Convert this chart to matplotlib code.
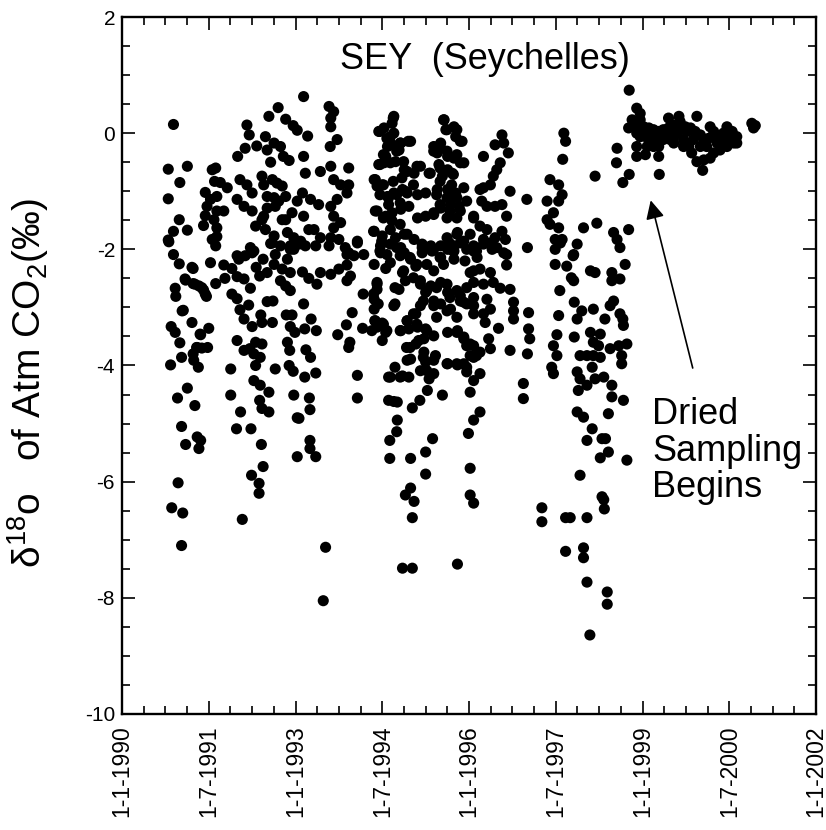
import numpy as np
import matplotlib.pyplot as plt

plt.rcParams['font.family'] = ['Liberation Sans', 'DejaVu Sans']
plt.rcParams['mathtext.fontset'] = 'custom'
plt.rcParams['mathtext.rm'] = 'Liberation Sans'
plt.rcParams['mathtext.it'] = 'Liberation Sans'
plt.rcParams['axes.unicode_minus'] = False

# (decimal year, delta18O permil)
flask_1990_1992 = [
    (1990.89, 0.15), (1990.80, -0.62), (1991.13, -0.57), (1991.00, -0.85), (1990.80, -1.13),
    (1990.99, -1.49), (1991.13, -1.67), (1990.89, -1.69), (1990.80, -1.84), (1990.89, -2.09),
    (1991.56, -0.63), (1991.62, -0.60), (1991.44, -1.02), (1991.60, -0.83), (1991.70, -0.85),
    (1991.82, -0.94), (1991.53, -1.14), (1991.64, -1.09), (1991.47, -1.26), (1991.44, -1.42),
    (1991.64, -1.34), (1991.76, -1.34), (1991.59, -1.49), (1991.41, -1.59), (1991.64, -1.63),
    (1991.56, -1.83), (1991.64, -1.78), (1991.62, -1.94), (1992.00, -0.40), (1991.99, -1.14),
    (1991.99, -2.11), (1990.81, -1.87), (1990.99, -2.25), (1991.23, -2.33), (1990.92, -2.67),
    (1990.93, -2.81), (1991.10, -2.53), (1991.23, -2.59), (1991.33, -2.63), (1991.41, -2.70),
    (1991.46, -2.81), (1991.06, -3.05), (1990.85, -3.33), (1990.92, -3.43), (1991.00, -3.61),
    (1991.03, -3.86), (1991.21, -3.26), (1991.36, -3.47), (1991.50, -3.36), (1991.30, -3.69),
    (1991.38, -3.70), (1991.48, -3.69), (1991.24, -3.91), (1991.32, -4.03), (1990.84, -3.99),
    (1991.13, -4.39), (1990.96, -4.56), (1991.26, -4.69), (1991.03, -5.05), (1991.10, -5.36),
    (1991.30, -5.23), (1991.36, -5.29), (1991.33, -5.43), (1990.97, -6.02), (1991.53, -2.23),
    (1991.62, -2.59), (1991.76, -2.27), (1991.78, -2.50), (1991.90, -2.33), (1991.99, -2.47),
    (1991.90, -2.77), (1991.99, -2.85), (1991.99, -3.57), (1991.88, -4.06), (1991.88, -4.51),
    (1991.98, -5.09), (1990.86, -6.45), (1991.05, -6.54), (1991.03, -7.10),
    (1991.21, -2.31), (1991.09, -2.51), (1991.26, -2.60), (1991.38, -2.66), (1991.44, -2.77),
    (1991.04, -3.06), (1991.35, -3.46), (1991.29, -3.69), (1991.23, -3.80),
]

flask_1992_1993 = [
    (1992.16, 0.14), (1992.20, -0.03), (1992.13, -0.26), (1992.33, -0.22), (1992.48, -0.06),
    (1992.54, 0.29), (1992.70, 0.44), (1992.83, 0.24), (1992.96, 0.13), (1993.03, 0.05),
    (1993.21, -0.05), (1992.51, -0.29), (1992.57, -0.50), (1992.63, -0.17), (1992.74, -0.23),
    (1992.79, -0.40), (1992.89, -0.47), (1992.04, -0.80), (1992.16, -0.89), (1992.25, -1.03),
    (1992.11, -1.26), (1992.25, -1.34), (1992.42, -0.74), (1992.45, -0.89), (1992.60, -0.80),
    (1992.68, -0.86), (1992.77, -0.91), (1992.51, -1.09), (1992.63, -1.11), (1992.71, -1.17),
    (1992.83, -1.09), (1992.65, -1.26), (1992.51, -1.29), (1992.45, -1.43), (1992.42, -1.49),
    (1992.31, -1.60), (1992.48, -1.66), (1992.63, -1.77), (1992.60, -1.89), (1992.77, -1.49),
    (1992.83, -1.49), (1992.94, -1.37), (1992.86, -1.71), (1992.97, -1.80), (1993.09, -1.86),
    (1992.91, -1.94), (1993.14, -0.40), (1993.17, -0.69), (1993.12, -1.03), (1993.03, -1.17),
    (1993.26, -1.14), (1993.40, -1.23), (1993.14, -1.43), (1993.23, -1.66), (1993.32, -1.66),
    (1993.43, -1.80), (1993.17, -1.94), (1993.35, -1.94), (1992.97, -2.00), (1992.22, -1.97),
    (1992.28, -2.03), (1992.13, -2.11), (1993.14, 0.63), (1992.02, -2.17), (1992.11, -2.51),
    (1992.04, -3.04), (1992.11, -3.20), (1992.19, -2.96), (1992.22, -2.67), (1992.25, -3.33),
    (1992.31, -3.60), (1992.42, -3.63), (1992.44, -2.17), (1992.32, -2.31), (1992.38, -2.46),
    (1992.51, -2.90), (1992.61, -2.89), (1992.40, -3.13), (1992.42, -3.26), (1992.60, -3.26),
    (1992.11, -3.74), (1992.21, -3.71), (1992.28, -3.80), (1992.39, -3.86), (1992.31, -4.00),
    (1992.65, -4.06), (1992.28, -4.26), (1992.39, -4.34), (1992.54, -4.46), (1992.38, -4.60),
    (1992.42, -4.74), (1992.54, -4.80), (1992.05, -4.80), (1992.23, -5.09), (1992.41, -5.36),
    (1992.44, -5.74), (1992.24, -5.89), (1992.37, -6.03), (1992.37, -6.20), (1992.57, -1.90),
    (1992.74, -1.94), (1992.65, -2.09), (1992.63, -2.26), (1992.77, -2.34), (1992.86, -2.17),
    (1992.91, -2.00), (1993.06, -1.91), (1992.91, -2.40), (1992.74, -2.54), (1992.83, -2.63),
    (1992.91, -2.71), (1992.51, -2.40), (1992.25, -2.06), (1993.14, -2.94), (1992.84, -3.13),
    (1992.94, -3.13), (1992.91, -3.33), (1992.99, -3.43), (1993.16, -3.37), (1993.27, -3.20),
    (1993.36, -3.40), (1992.86, -3.60), (1992.90, -3.74), (1993.18, -3.73), (1993.26, -3.86),
    (1992.89, -4.00), (1992.96, -4.10), (1993.16, -4.20), (1993.35, -4.13), (1992.97, -4.51),
    (1993.24, -4.56), (1993.03, -4.90), (1993.06, -4.91), (1993.25, -4.76), (1993.25, -5.29),
    (1993.25, -5.43), (1993.35, -5.57), (1993.03, -5.57), (1993.12, -2.39), (1993.23, -2.50),
    (1993.37, -2.60), (1993.43, -2.40), (1992.08, -6.65),
]

flask_1993_1994 = [
    (1993.58, 0.46), (1993.66, 0.37), (1993.61, 0.26), (1993.61, 0.11), (1993.60, -0.23),
    (1993.72, -0.11), (1993.61, -0.57), (1993.43, -0.66), (1993.66, -0.80), (1993.78, -0.89),
    (1993.92, -0.60), (1993.89, -1.03), (1993.92, -0.89), (1993.61, -1.26), (1993.72, -1.14),
    (1993.66, -1.43), (1993.78, -1.54), (1993.66, -1.63), (1993.61, -1.80), (1993.75, -1.83),
    (1993.58, -1.94), (1994.07, -1.86), (1993.92, -2.06), (1994.18, -2.09), (1993.61, -2.43),
    (1993.75, -2.34), (1993.89, -2.27), (1993.89, -2.09), (1993.86, -1.97), (1994.07, -1.89),
    (1994.01, -2.11), (1993.95, -2.46), (1993.89, -2.54), (1994.17, -2.77), (1993.98, -3.09),
    (1993.88, -3.30), (1993.94, -3.60), (1993.92, -3.69), (1993.73, -3.47), (1994.16, -3.36),
    (1994.07, -4.17), (1994.07, -4.56), (1993.52, -7.13), (1993.48, -8.05),
]

flask_1994_1995 = [
    (1994.44, 0.03), (1994.53, 0.09), (1994.64, -0.06), (1994.70, 0.29), (1994.67, 0.17),
    (1994.70, 0.00), (1994.82, -0.17), (1994.99, -0.14), (1994.59, -0.23), (1994.79, -0.29),
    (1994.56, -0.40), (1994.44, -0.54), (1994.53, -0.51), (1994.73, -0.49), (1994.88, -0.63),
    (1995.05, -0.69), (1995.16, -0.57), (1995.31, -0.69), (1995.39, -0.23), (1995.51, -0.17),
    (1995.57, 0.23), (1995.60, 0.06), (1995.74, 0.11), (1995.77, -0.06), (1995.45, -0.34),
    (1995.63, -0.40), (1995.74, -0.43), (1995.48, -0.54), (1995.63, -0.63), (1995.54, -0.74),
    (1995.71, -0.69), (1994.36, -0.80), (1994.41, -0.91), (1994.50, -0.89), (1994.59, -1.09),
    (1994.70, -1.03), (1994.85, -0.97), (1994.93, -1.03), (1995.11, -1.06), (1995.25, -1.03),
    (1995.45, -0.97), (1995.63, -0.97), (1995.77, -1.03), (1994.41, -1.34), (1994.56, -1.43),
    (1994.67, -1.37), (1994.82, -1.31), (1994.96, -1.26), (1995.11, -1.46), (1995.25, -1.43),
    (1995.39, -1.37), (1995.51, -1.29), (1995.68, -1.23), (1995.83, -1.26), (1994.36, -1.69),
    (1994.50, -1.77), (1994.64, -1.66), (1994.73, -1.80), (1994.88, -1.74), (1995.05, -1.83),
    (1995.19, -1.91), (1995.34, -1.94), (1995.51, -1.94), (1995.66, -1.89), (1995.80, -1.71),
    (1994.47, -1.94), (1994.82, -1.97), (1995.74, -2.03), (1994.36, -2.26), (1994.47, -2.06),
    (1994.56, -2.33), (1994.64, -2.23), (1994.41, -2.57), (1994.41, -2.69), (1994.36, -2.86),
    (1994.36, -3.03), (1994.37, -3.23), (1994.50, -3.27), (1994.56, -3.43), (1994.50, -3.57),
    (1994.41, -3.34), (1994.79, -2.69), (1994.70, -2.97), (1994.90, -2.54), (1994.85, -2.40),
    (1994.88, -2.06), (1994.99, -2.17), (1995.08, -2.29), (1995.19, -2.06), (1995.39, -2.00),
    (1995.51, -2.14), (1995.16, -2.54), (1995.25, -2.74), (1995.34, -2.63), (1995.51, -2.57),
    (1995.63, -2.74), (1995.39, -2.97), (1995.51, -2.94), (1995.68, -3.03), (1995.16, -2.97),
    (1995.08, -3.11), (1994.93, -3.23), (1994.82, -3.40), (1994.96, -3.37), (1995.11, -3.34),
    (1995.25, -3.37), (1995.39, -3.49), (1995.63, -3.43), (1995.80, -3.40), (1994.92, -3.69),
    (1995.08, -3.63), (1995.22, -3.54), (1995.22, -3.77), (1995.25, -3.94), (1995.16, -4.09),
    (1995.39, -4.14), (1995.31, -4.23), (1995.42, -3.83), (1995.63, -3.97), (1995.80, -3.99),
    (1994.99, -3.89), (1994.72, -4.03), (1994.61, -4.20), (1994.85, -4.18), (1994.96, -4.20),
    (1994.70, -4.62), (1994.61, -4.60), (1994.76, -4.63), (1994.76, -4.94), (1994.75, -5.14),
    (1994.63, -5.29), (1994.63, -5.60), (1994.99, -5.60), (1995.02, -4.73), (1995.15, -4.60),
    (1995.28, -4.43), (1995.54, -4.51), (1995.37, -5.26), (1995.25, -5.49), (1995.25, -5.87),
    (1994.99, -6.11), (1994.90, -6.23), (1995.74, -1.94), (1995.74, -2.17), (1995.63, -2.00),
    (1995.05, -6.34), (1995.02, -6.62), (1994.85, -7.49), (1995.02, -7.49), (1995.80, -7.42),
    (1994.69, 0.26), (1994.46, 0.03), (1994.58, -0.09), (1994.67, -0.20), (1994.81, -0.17),
    (1994.95, -0.14), (1994.52, -0.37), (1994.75, -0.31), (1994.87, -0.49), (1994.46, -0.54),
    (1994.64, -0.51), (1994.38, -0.80), (1994.52, -0.89), (1994.69, -0.83), (1994.84, -0.77),
    (1994.93, -0.66), (1995.10, -0.57), (1995.04, -0.89), (1994.46, -1.06), (1994.61, -1.11),
    (1994.75, -1.06), (1994.90, -1.00), (1994.61, -1.23), (1994.81, -1.20), (1994.38, -1.34),
    (1994.52, -1.46), (1994.67, -1.51), (1994.81, -1.57), (1994.93, -1.74), (1994.35, -1.69),
    (1994.49, -1.86), (1994.64, -1.91), (1994.46, -2.03), (1994.58, -2.09), (1994.75, -1.97),
    (1994.81, -2.11), (1994.98, -2.14), (1995.10, -2.26), (1994.87, -2.37), (1995.04, -2.49),
    (1995.19, -1.97), (1995.36, -2.03), (1995.50, -2.14), (1995.27, -2.26), (1995.39, -2.37),
    (1995.56, -2.26), (1995.16, -2.60), (1995.27, -2.71), (1995.44, -2.66), (1995.62, -2.60),
    (1995.79, -2.71), (1995.96, -2.66), (1996.08, -2.83), (1995.85, -2.89), (1995.67, -2.83),
    (1995.39, -2.89), (1995.21, -2.89), (1995.04, -3.11), (1994.93, -3.23), (1995.10, -3.29),
    (1994.81, -3.40), (1995.27, -3.40), (1995.44, -3.17), (1995.62, -3.06), (1995.79, -3.17),
    (1995.96, -2.94), (1996.08, -3.11), (1995.91, -3.51), (1995.79, -3.43), (1996.02, -3.63),
    (1996.08, -3.86), (1995.96, -4.03), (1995.79, -3.97), (1995.62, -3.97), (1995.39, -3.91),
    (1995.21, -3.86), (1995.13, -3.57), (1994.98, -3.69), (1994.93, -3.91), (1995.27, -4.09),
    (1994.81, -4.20), (1994.64, -4.20), (1994.35, -2.77), (1994.41, -2.60), (1994.43, -2.94),
    (1994.38, -3.23), (1994.32, -3.40), (1994.52, -3.29), (1994.58, -3.40), (1994.72, -2.94),
    (1994.72, -2.66), (1995.56, 0.23), (1995.62, 0.06), (1995.79, 0.06), (1995.85, -0.14),
    (1995.50, -0.20), (1995.39, -0.31), (1995.62, -0.31), (1995.79, -0.37), (1995.85, -0.51),
    (1995.33, -0.69), (1995.50, -0.60), (1995.73, -0.71), (1995.50, -0.83), (1995.70, -0.89),
    (1995.91, -0.94), (1995.44, -1.06), (1995.62, -1.11), (1995.79, -1.11), (1995.96, -1.17),
    (1995.50, -1.23), (1995.67, -1.34), (1995.85, -1.34), (1995.39, -1.40), (1995.62, -1.46),
    (1995.79, -1.46), (1996.08, -1.46), (1996.02, -1.74), (1995.91, -1.86), (1995.79, -1.74),
    (1995.62, -1.80), (1995.73, -2.03), (1996.08, -2.03), (1995.93, -2.20), (1996.14, -2.14),
    (1996.08, -2.37),
]

flask_1996_1997 = [
    (1995.88, -0.14), (1995.91, -0.51), (1996.25, -0.40), (1996.45, -0.20), (1996.57, -0.03),
    (1996.60, -0.17), (1996.68, -0.34), (1996.54, -0.51), (1996.48, -0.63), (1996.42, -0.74),
    (1996.37, -0.89), (1996.25, -0.94), (1996.19, -0.97), (1996.71, -1.00), (1996.22, -1.17),
    (1996.31, -1.26), (1996.45, -1.26), (1996.57, -1.23), (1996.65, -1.43), (1996.08, -1.43),
    (1996.19, -1.60), (1996.31, -1.66), (1996.57, -1.69), (1996.25, -1.83), (1996.45, -1.80),
    (1996.63, -1.83), (1996.40, -2.00), (1996.13, -2.03), (1996.60, -2.06), (1997.00, -1.14),
    (1997.01, -1.97), (1995.85, -1.89), (1995.96, -2.00), (1996.08, -1.94), (1996.25, -1.91),
    (1996.37, -1.89), (1996.48, -1.97), (1996.65, -2.09), (1996.65, -2.27), (1996.37, -2.40),
    (1996.19, -2.34), (1996.02, -2.40), (1996.08, -2.57), (1996.25, -2.60), (1996.42, -2.57),
    (1996.54, -2.67), (1996.71, -2.69), (1996.31, -2.86), (1996.08, -2.97), (1995.91, -2.91),
    (1995.85, -2.80), (1996.77, -2.91), (1996.77, -3.06), (1996.77, -3.20), (1997.03, -3.09),
    (1996.37, -3.03), (1996.25, -3.11), (1996.28, -3.26), (1996.51, -3.36), (1996.71, -3.74),
    (1997.03, -3.37), (1997.05, -3.54), (1997.01, -3.80), (1995.91, -3.54), (1995.96, -3.66),
    (1996.08, -3.66), (1996.19, -3.77), (1996.37, -3.71), (1996.34, -3.54), (1996.02, -3.83),
    (1996.13, -3.83), (1995.96, -4.11), (1996.08, -4.26), (1996.19, -4.14), (1996.02, -4.46),
    (1995.91, -3.97), (1996.94, -4.31), (1996.94, -4.57), (1996.19, -4.80), (1996.08, -4.94),
    (1995.99, -5.17), (1996.02, -5.77), (1996.02, -6.23), (1996.08, -6.37),
]

flask_1997_1998 = [
    (1997.35, -1.17), (1997.40, -0.80), (1997.55, -0.89), (1997.61, -1.06), (1997.55, -1.17),
    (1997.46, -1.37), (1997.35, -1.49), (1997.40, -1.57), (1997.55, -1.63), (1997.49, -1.83),
    (1997.61, -1.83), (1997.49, -2.00), (1997.81, -2.09), (1997.87, -1.91), (1997.64, 0.00),
    (1997.67, -0.14), (1997.62, -0.45), (1997.98, -1.63), (1998.21, -1.55), (1998.18, -0.74),
    (1998.50, -1.71), (1998.56, -1.83), (1998.61, -1.97), (1998.76, -1.66), (1998.56, -0.26),
    (1998.55, -0.51), (1998.66, -0.85), (1998.77, -0.71), (1997.58, -1.89), (1997.80, -2.11),
    (1997.49, -2.26), (1997.69, -2.29), (1997.77, -2.49), (1997.81, -2.54), (1997.57, -2.71),
    (1997.55, -3.14), (1997.52, -3.47), (1997.46, -3.66), (1997.52, -3.83), (1997.43, -4.03),
    (1997.46, -4.14), (1997.82, -2.91), (1997.95, -3.06), (1997.87, -3.20), (1998.15, -3.03),
    (1998.35, -3.20), (1998.10, -2.37), (1998.18, -2.40), (1998.47, -2.40), (1998.61, -2.51),
    (1998.47, -2.54), (1998.50, -2.89), (1998.44, -2.97), (1998.61, -3.11), (1998.66, -3.20),
    (1998.67, -3.31), (1998.70, -2.26), (1997.82, -3.51), (1997.92, -3.83), (1998.04, -3.83),
    (1998.15, -3.83), (1998.27, -3.86), (1998.10, -3.43), (1998.27, -3.46), (1998.15, -3.60),
    (1998.24, -3.66), (1998.44, -3.71), (1998.59, -3.66), (1998.73, -3.63), (1998.64, -3.83),
    (1998.64, -3.97), (1998.13, -4.03), (1998.18, -4.23), (1998.33, -4.20), (1997.87, -4.11),
    (1997.92, -4.23), (1998.04, -4.34), (1997.89, -4.43), (1998.47, -4.34), (1998.47, -4.54),
    (1998.67, -4.60), (1997.87, -4.80), (1997.98, -4.89), (1998.41, -4.83), (1998.13, -5.09),
    (1998.04, -5.29), (1998.30, -5.26), (1998.36, -5.26), (1998.41, -5.49), (1998.27, -5.59),
    (1998.73, -5.63), (1997.92, -5.89), (1998.30, -6.26), (1997.26, -6.45), (1997.26, -6.69),
    (1997.67, -6.62), (1997.75, -6.62), (1998.04, -6.62), (1997.67, -7.20), (1997.98, -7.14),
    (1997.98, -7.31), (1998.04, -7.73), (1998.33, -6.31), (1998.34, -6.47), (1998.39, -7.90),
    (1998.39, -8.11), (1998.09, -8.64),
]

# dried samples from late 1998 on
dried = [
    (1998.77, 0.74), (1998.90, 0.43), (1998.96, 0.34), (1998.82, 0.23), (1998.76, 0.09),
    (1998.85, 0.11), (1998.93, 0.06), (1999.02, 0.11), (1999.11, 0.09), (1999.19, 0.06),
    (1999.28, 0.03), (1999.36, 0.06), (1999.45, 0.09), (1999.54, 0.14), (1999.63, 0.29),
    (1999.45, 0.26), (1999.65, 0.06), (1999.74, 0.11), (1999.83, 0.09), (1999.94, 0.29),
    (1999.91, 0.03), (2000.00, -0.03), (2000.06, -0.14), (2000.17, 0.11), (2000.23, 0.03),
    (2000.40, 0.00), (2000.46, 0.11), (2000.55, 0.03), (2000.63, -0.06), (2000.58, -0.17),
    (2000.46, -0.23), (2000.34, -0.29), (2000.23, -0.34), (2000.17, -0.43), (2000.06, -0.46),
    (1999.94, -0.49), (2000.04, -0.64), (1999.85, -0.34), (1999.80, -0.23), (1999.71, -0.11),
    (1999.54, -0.06), (1999.48, -0.11), (1999.36, -0.11), (1999.25, -0.09), (1999.16, -0.11),
    (1999.05, -0.06), (1998.96, -0.06), (1998.90, -0.23), (1998.90, -0.40), (1999.05, -0.37),
    (1999.08, -0.23), (1999.19, -0.23), (1999.28, -0.40), (1999.28, -0.23), (1999.29, -0.71),
    (1999.54, -0.17), (1999.71, -0.23), (1999.88, -0.11), (2000.11, -0.23), (2000.29, -0.17),
    (2000.52, -0.11), (2000.63, -0.17), (2000.89, 0.17), (2000.95, 0.13), (2000.92, 0.09),
    (1998.96, 0.23), (1999.13, 0.00), (1999.31, -0.03), (1999.60, 0.00), (1999.77, 0.03),
    (1999.65, 0.20), (2000.14, -0.09), (2000.31, -0.06), (2000.43, -0.11), (2000.00, -0.23),
    (1998.90, 0.00), (1999.39, 0.00),
]

groups = [flask_1990_1992, flask_1992_1993, flask_1993_1994, flask_1994_1995,
          flask_1996_1997, flask_1997_1998, dried]
pts = np.array([p for g in groups for p in g])

fig = plt.figure(figsize=(8.26, 8.30), dpi=100)
ax = fig.add_axes([0.1477, 0.1398, 0.8402, 0.8397])

ax.scatter(pts[:, 0], pts[:, 1], s=64, color='black', edgecolors='none', zorder=3)

ax.set_xlim(1990, 2002)
ax.set_ylim(-10, 2)

xmajor = np.arange(1990, 2002.01, 1.5)
xlabels = ['1-1-1990', '1-7-1991', '1-1-1993', '1-7-1994', '1-1-1996',
           '1-7-1997', '1-1-1999', '1-7-2000', '1-1-2002']
ax.set_xticks(xmajor)
ax.set_xticklabels(xlabels, rotation=90, fontsize=16.5)
ax.set_xticks(np.arange(1990, 2002.01, 0.375), minor=True)
ax.set_yticks(np.arange(-10, 2.01, 2))
ax.set_yticklabels(['-10', '-8', '-6', '-4', '-2', '0', '2'], fontsize=15)
ax.set_yticks(np.arange(-10, 2.01, 0.5), minor=True)

ax.tick_params(which='both', direction='in', top=True, right=True, width=1.2)
ax.tick_params(which='major', length=9.5)
ax.tick_params(which='minor', length=5.5)
ax.tick_params(axis='x', which='major', pad=8)
ax.tick_params(axis='y', which='major', pad=5)
for s in ax.spines.values():
    s.set_linewidth(1.7)

ax.set_ylabel('δ$^{18}$o   of Atm CO$_2$(‰)', fontsize=28)
ax.yaxis.set_label_coords(-0.103, 0.475)

ax.text(1996.28, 1.27, 'SEY  (Seychelles)', fontsize=26, ha='center', va='center')

ax.annotate('', xy=(1999.13, -1.11), xytext=(1999.88, -4.09),
            arrowprops=dict(arrowstyle='-|>', color='black', lw=1.2, mutation_scale=28))
ax.text(1999.17, -4.55, 'Dried\nSampling\nBegins', fontsize=26, ha='left', va='top', linespacing=1.05)

plt.savefig('out.png', dpi=100)
